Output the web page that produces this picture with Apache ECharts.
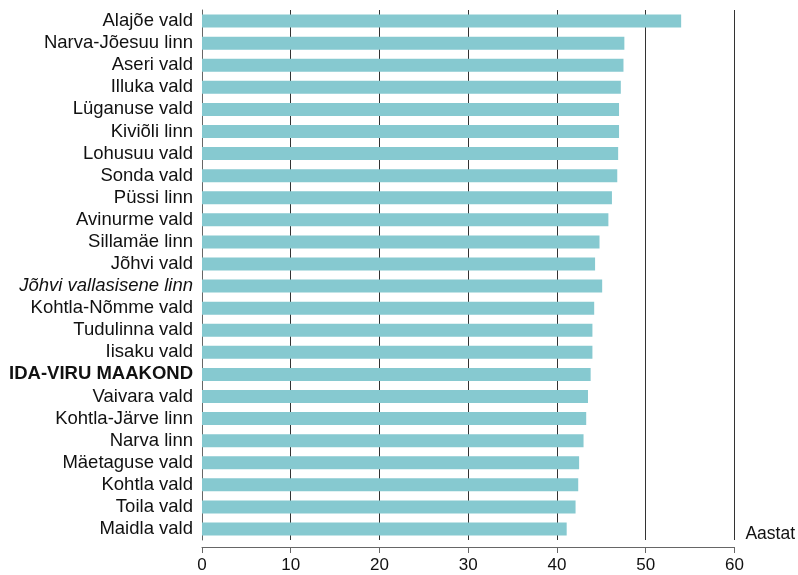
<!DOCTYPE html>
<html>
<head>
<meta charset="utf-8">
<script src="https://cdn.jsdelivr.net/npm/echarts@6/dist/echarts.min.js"></script>
<style>html,body{margin:0;padding:0;background:#fff}#c{width:798px;height:575px}</style>
</head>
<body>
<div id="c"></div>
<script>
const categories = ["Alajõe vald","Narva-Jõesuu linn","Aseri vald","Illuka vald","Lüganuse vald","Kiviõli linn","Lohusuu vald","Sonda vald","Püssi linn","Avinurme vald","Sillamäe linn","Jõhvi vald","Jõhvi vallasisene linn","Kohtla-Nõmme vald","Tudulinna vald","Iisaku vald","IDA-VIRU MAAKOND","Vaivara vald","Kohtla-Järve linn","Narva linn","Mäetaguse vald","Kohtla vald","Toila vald","Maidla vald"];
const values = [54.0,47.6,47.5,47.2,47.0,47.0,46.9,46.8,46.2,45.8,44.8,44.3,45.1,44.2,44.0,44.0,43.8,43.5,43.3,43.0,42.5,42.4,42.1,41.1];
const italicCats = ["Jõhvi vallasisene linn"];
const boldCats = ["IDA-VIRU MAAKOND"];
const axisName = "Aastat";

const chart = echarts.init(document.getElementById('c'));
chart.setOption({
  animation: false,
  textStyle: {fontFamily: '"Liberation Sans", Arial, sans-serif'},
  grid: {left: 202, right: 63, top: 10, bottom: 35},
  xAxis: {
    type: 'value', min: 0, max: 60, interval: 10,
    offset: 7,
    name: axisName, nameLocation: 'end', nameGap: 11,
    nameTextStyle: {fontSize: 17.5, color: '#111', verticalAlign: 'bottom', padding: [0,0,4,0]},
    axisLine: {show: true, lineStyle: {color: '#666', width: 1}},
    axisTick: {show: true, length: 6, lineStyle: {color: '#666'}},
    axisLabel: {fontSize: 17, color: '#111', margin: 10},
    splitLine: {show: true, lineStyle: {color: '#333', width: 1}}
  },
  yAxis: {
    type: 'category', data: categories, inverse: true,
    axisLine: {show: true, lineStyle: {color: '#666'}},
    axisTick: {show: false},
    axisLabel: {
      interval: 0,
      fontSize: 18.5, color: '#111', margin: 9,
      formatter: function(v){
        if (italicCats.indexOf(v) >= 0) return '{i|' + v + '}';
        if (boldCats.indexOf(v) >= 0) return '{b|' + v + '}';
        return v;
      },
      rich: {
        i: {fontStyle: 'italic', fontSize: 18.5, color: '#111'},
        b: {fontWeight: 'bold', fontSize: 18.5, color: '#111'}
      }
    }
  },
  series: [{
    type: 'bar', data: values, barWidth: 13,
    itemStyle: {color: '#86c9d0'}
  }]
});
</script>
</body>
</html>
